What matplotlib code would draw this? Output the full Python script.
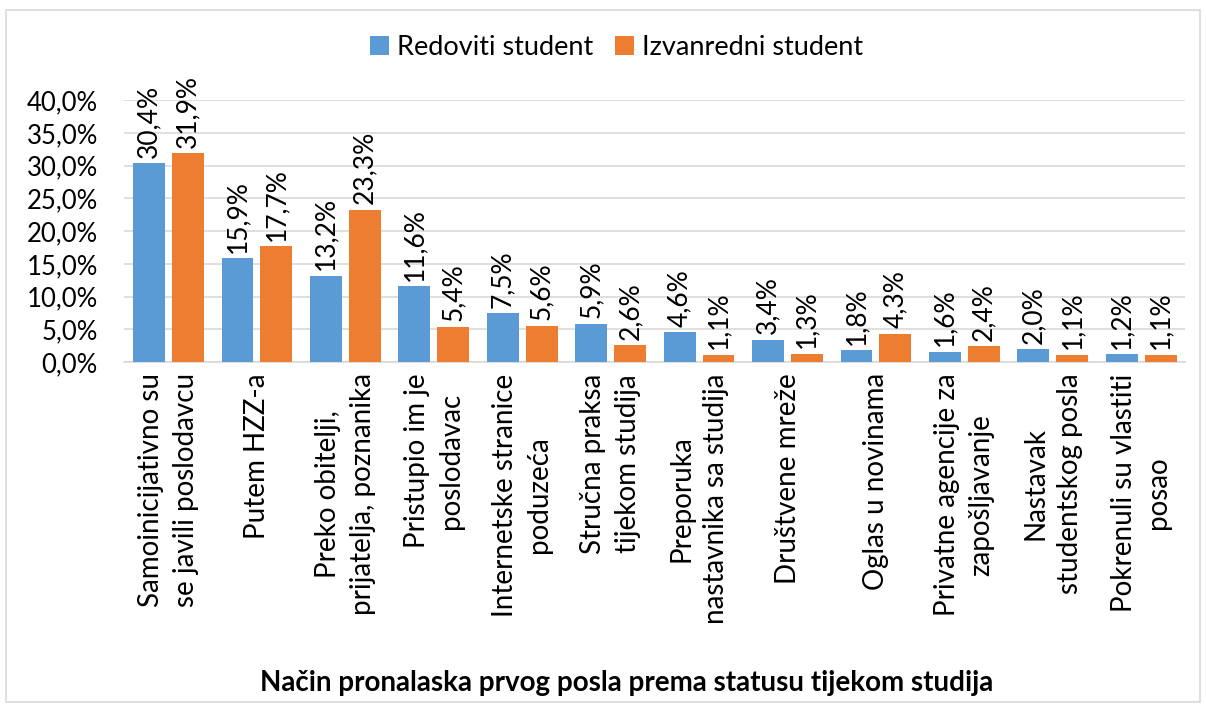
import matplotlib
matplotlib.use("Agg")
import matplotlib.pyplot as plt
import numpy as np
from matplotlib.patches import Rectangle

plt.rcParams['font.family'] = ['Lato', 'DejaVu Sans']

categories = [
    "Samoinicijativno su\nse javili poslodavcu",
    "Putem HZZ-a",
    "Preko obitelji,\nprijatelja, poznanika",
    "Pristupio im je\nposlodavac",
    "Internetske stranice\npoduzeća",
    "Stručna praksa\ntijekom studija",
    "Preporuka\nnastavnika sa studija",
    "Društvene mreže",
    "Oglas u novinama",
    "Privatne agencije za\nzapošljavanje",
    "Nastavak\nstudentskog posla",
    "Pokrenuli su vlastiti\nposao",
]
redoviti = [30.4, 15.9, 13.2, 11.6, 7.5, 5.9, 4.6, 3.4, 1.8, 1.6, 2.0, 1.2]
izvanredni = [31.9, 17.7, 23.3, 5.4, 5.6, 2.6, 1.1, 1.3, 4.3, 2.4, 1.1, 1.1]
y_ticks = [0, 5, 10, 15, 20, 25, 30, 35, 40]

BLUE = '#5B9BD5'
ORANGE = '#ED7D31'

fig = plt.figure(figsize=(12.06, 7.06), dpi=100)
ax = fig.add_axes([0.103, 0.487, 0.880, 0.371])

x = np.arange(len(categories))
w = 0.36
off = 0.22
b1 = ax.bar(x - off, redoviti, w, color=BLUE, label='Redoviti student', zorder=3)
b2 = ax.bar(x + off, izvanredni, w, color=ORANGE, label='Izvanredni student', zorder=3)

def fmt(v):
    return f'{v:.1f}'.replace('.', ',') + '%'

for bars, vals in ((b1, redoviti), (b2, izvanredni)):
    for rect, v in zip(bars, vals):
        ax.annotate(fmt(v), (rect.get_x() + rect.get_width() / 2, v),
                    xytext=(0, 4), textcoords='offset points',
                    rotation=90, ha='center', va='bottom', fontsize=19,
                    annotation_clip=False)

ax.set_ylim(0, 40)
ax.set_xlim(-0.5, len(categories) - 0.5)
ax.set_yticks(y_ticks)
ax.set_yticklabels([fmt(t) for t in y_ticks], fontsize=18.5)
ax.set_xticks(x)
ax.set_xticklabels(categories, rotation=90, fontsize=20, linespacing=1.4)
ax.tick_params(axis='both', length=0)
ax.tick_params(axis='x', pad=8)
ax.tick_params(axis='y', pad=19)

ax.grid(axis='y', color='#d9d9d9', linewidth=1.2, zorder=0)
for s in ('top', 'right', 'left'):
    ax.spines[s].set_visible(False)
ax.spines['bottom'].set_color('#d9d9d9')
ax.spines['bottom'].set_linewidth(1.2)

fig.legend(handles=[b1, b2], loc='center', bbox_to_anchor=(0.511, 0.933),
           ncol=2, frameon=False, fontsize=19.5, handlelength=0.7,
           handleheight=0.7, handletextpad=0.3, columnspacing=0.8)

fig.text(0.52, 0.033, 'Način pronalaska prvog posla prema statusu tijekom studija',
         ha='center', va='center', fontsize=20, fontweight='bold')

fig.patches.append(Rectangle((0.005, 0.005), 0.99, 0.981, transform=fig.transFigure,
                             fill=False, edgecolor='#d9d9d9', linewidth=1.2))

fig.savefig('out.png', dpi=100)
